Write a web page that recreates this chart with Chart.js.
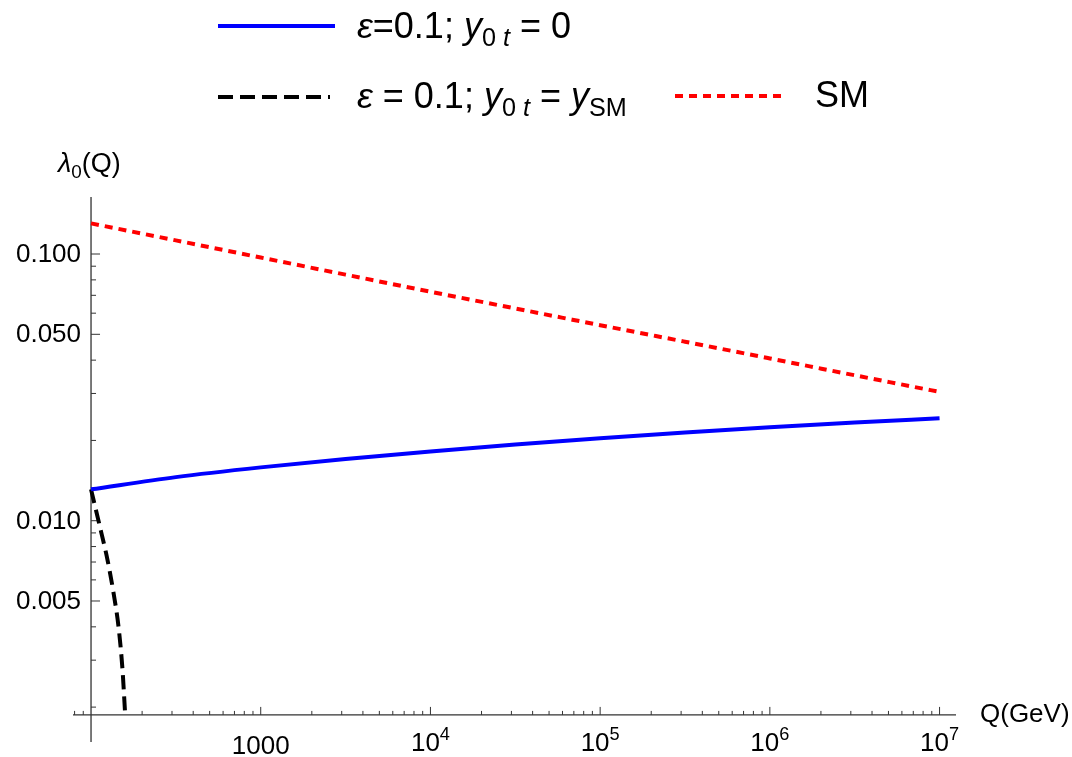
<!DOCTYPE html>
<html>
<head>
<meta charset="utf-8">
<script src="https://cdn.jsdelivr.net/npm/chart.js@4.4.0/dist/chart.umd.min.js"></script>
<style>
  body { margin: 0; background: #fff; }
  #wrap { width: 1072px; height: 757px; position: relative; }
</style>
</head>
<body>
<div id="wrap"><canvas id="lambdaChart"></canvas></div>
<script>
// Q grid (GeV), half decades from 100 to 10^7
const qGrid = [100, 316, 1000, 3162, 1e4, 31623, 1e5, 316228, 1e6, 3162278, 1e7];
// SM running coupling
const smLambda = [0.1303, 0.1125, 0.0970, 0.0837, 0.0722, 0.0625, 0.0541, 0.0469, 0.0406, 0.0351, 0.0304];
// eps = 0.1, y0t = 0
const epsYt0Lambda = [0.01311, 0.01457, 0.01585, 0.01705, 0.01819, 0.01931, 0.02039, 0.02141, 0.02240, 0.02333, 0.02421];
// eps = 0.1, y0t = ySM (drops fast near the start)
const qSteep = [100, 112.2, 125.1, 135.7, 145.3, 153.3, 158.6];
const epsYtSmLambda = [0.01311, 0.00963, 0.00712, 0.00536, 0.00399, 0.00276, 0.00192];

// axes
const xMin = 78.3, xMax = 1.25e7;
const yMin = 0.00148, yMax = 0.1636;
const axisOriginQ = 100;
const axisOriginLambda = 0.00187;
const xMajorTicks = [1e3, 1e4, 1e5, 1e6, 1e7];
const xTickLabels = ['1000', '10^4', '10^5', '10^6', '10^7'];
const yMajorTicks = [0.1, 0.05, 0.01, 0.005];
const yTickLabels = ['0.100', '0.050', '0.010', '0.005'];
const yMinorTicks = [0.09, 0.08, 0.07, 0.06, 0.04, 0.03, 0.02, 0.009, 0.008, 0.007, 0.006, 0.004, 0.003, 0.002];

const FONT = '"Liberation Sans", Arial, sans-serif';

function toPoints(xs, ys) {
    return xs.map((q, i) => ({ x: q, y: ys[i] }));
}

// draws a list of text runs (italic / sub / sup) starting at x, returns end x
function drawRuns(ctx, x, baseline, runs, size, measureOnly) {
    runs.forEach(r => {
        const small = r.sub || r.sup;
        const s = small ? size * 0.7 : size;
        ctx.font = (r.it ? 'italic ' : '') + s + 'px ' + FONT;
        const dy = r.sub ? size * 0.22 : (r.sup ? -size * 0.42 : 0);
        if (!measureOnly) ctx.fillText(r.t, x, baseline + dy);
        x += ctx.measureText(r.t).width;
    });
    return x;
}

function labelRuns(label) {
    const parts = label.split('^');
    const runs = [{ t: parts[0] }];
    if (parts[1]) runs.push({ t: parts[1], sup: true });
    return runs;
}

const axesPlugin = {
    id: 'mmaAxes',
    beforeDatasetsDraw(chart) {
        const { ctx, chartArea, scales: { x, y } } = chart;
        const x0 = x.getPixelForValue(axisOriginQ);
        const y0 = y.getPixelForValue(axisOriginLambda);
        ctx.save();
        ctx.strokeStyle = '#333';
        ctx.lineWidth = 1.3;
        ctx.beginPath();
        ctx.moveTo(x0, chartArea.top);
        ctx.lineTo(x0, chartArea.bottom);
        ctx.moveTo(chartArea.left, y0);
        ctx.lineTo(chartArea.right, y0);
        ctx.stroke();

        // x ticks (upwards)
        ctx.lineWidth = 1;
        ctx.beginPath();
        for (let d = 10; d <= 1e7; d *= 10) {
            for (let m = 2; m <= 9; m++) {
                const v = d * m;
                if (v < xMin || v > xMax) continue;
                const px = x.getPixelForValue(v);
                ctx.moveTo(px, y0);
                ctx.lineTo(px, y0 - 4);
            }
        }
        xMajorTicks.forEach(v => {
            const px = x.getPixelForValue(v);
            ctx.moveTo(px, y0);
            ctx.lineTo(px, y0 - 8);
        });
        // y ticks (to the right)
        yMinorTicks.forEach(v => {
            const py = y.getPixelForValue(v);
            ctx.moveTo(x0, py);
            ctx.lineTo(x0 + 5, py);
        });
        yMajorTicks.forEach(v => {
            const py = y.getPixelForValue(v);
            ctx.moveTo(x0, py);
            ctx.lineTo(x0 + 9, py);
        });
        ctx.stroke();

        // tick labels
        ctx.fillStyle = '#000';
        ctx.textBaseline = 'alphabetic';
        ctx.textAlign = 'left';
        const tickSize = 26;
        xMajorTicks.forEach((v, i) => {
            const runs = labelRuns(xTickLabels[i]);
            const w = drawRuns(ctx, 0, 0, runs, tickSize, true);
            const px = x.getPixelForValue(v);
            drawRuns(ctx, px - w / 2, runs.length > 1 ? 751 : 754, runs, tickSize);
        });
        ctx.font = tickSize + 'px ' + FONT;
        ctx.textAlign = 'right';
        ctx.textBaseline = 'middle';
        yMajorTicks.forEach((v, i) => {
            ctx.fillText(yTickLabels[i], x0 - 10, y.getPixelForValue(v) + 1);
        });
        ctx.restore();
    },
    afterDraw(chart) {
        const { ctx } = chart;
        ctx.save();
        ctx.fillStyle = '#000';
        ctx.textAlign = 'left';
        ctx.textBaseline = 'alphabetic';

        // axis titles
        drawRuns(ctx, 58, 172, [{ t: 'λ', it: true }, { t: '0', sub: true }, { t: '(Q)' }], 27);
        drawRuns(ctx, 980, 722, [{ t: 'Q(GeV)' }], 26);

        // legend samples
        const sample = (x1, x2, yy, color, dash) => {
            ctx.beginPath();
            ctx.strokeStyle = color;
            ctx.lineWidth = 4;
            ctx.setLineDash(dash);
            ctx.moveTo(x1, yy);
            ctx.lineTo(x2, yy);
            ctx.stroke();
        };
        sample(218, 335, 26, '#0000ff', []);
        sample(218, 330, 97, '#000000', [15, 7]);
        sample(675, 787, 96, '#ff0000', [8, 6]);
        ctx.setLineDash([]);

        const legSize = 36;
        drawRuns(ctx, 357, 38, [
            { t: 'ε', it: true }, { t: '=0.1; ' }, { t: 'y', it: true },
            { t: '0 ', sub: true }, { t: 't', sub: true, it: true }, { t: ' = 0' }
        ], legSize);
        drawRuns(ctx, 357, 108, [
            { t: 'ε', it: true }, { t: ' = 0.1; ' }, { t: 'y', it: true },
            { t: '0 ', sub: true }, { t: 't', sub: true, it: true }, { t: ' = ' },
            { t: 'y', it: true }, { t: 'SM', sub: true }
        ], legSize);
        drawRuns(ctx, 815, 107, [{ t: 'SM' }], legSize);
        ctx.restore();
    }
};

new Chart(document.getElementById('lambdaChart'), {
    type: 'line',
    data: {
        datasets: [{
            label: 'SM',
            data: toPoints(qGrid, smLambda),
            borderColor: '#ff0000',
            borderWidth: 4,
            borderDash: [8, 6],
            pointRadius: 0,
            cubicInterpolationMode: 'monotone'
        }, {
            label: 'eps=0.1; y0t = 0',
            data: toPoints(qGrid, epsYt0Lambda),
            borderColor: '#0000ff',
            borderWidth: 4,
            pointRadius: 0,
            cubicInterpolationMode: 'monotone'
        }, {
            label: 'eps = 0.1; y0t = ySM',
            data: toPoints(qSteep, epsYtSmLambda),
            borderColor: '#000000',
            borderWidth: 4,
            borderDash: [14, 7],
            pointRadius: 0,
            cubicInterpolationMode: 'monotone'
        }]
    },
    options: {
        responsive: true,
        maintainAspectRatio: false,
        animation: false,
        layout: { padding: { left: 73, right: 116, top: 197, bottom: 15 } },
        plugins: {
            legend: { display: false },
            tooltip: { enabled: false }
        },
        scales: {
            x: { type: 'logarithmic', min: xMin, max: xMax, bounds: 'data', display: false },
            y: { type: 'logarithmic', min: yMin, max: yMax, bounds: 'data', display: false }
        }
    },
    plugins: [axesPlugin]
});
</script>
</body>
</html>
